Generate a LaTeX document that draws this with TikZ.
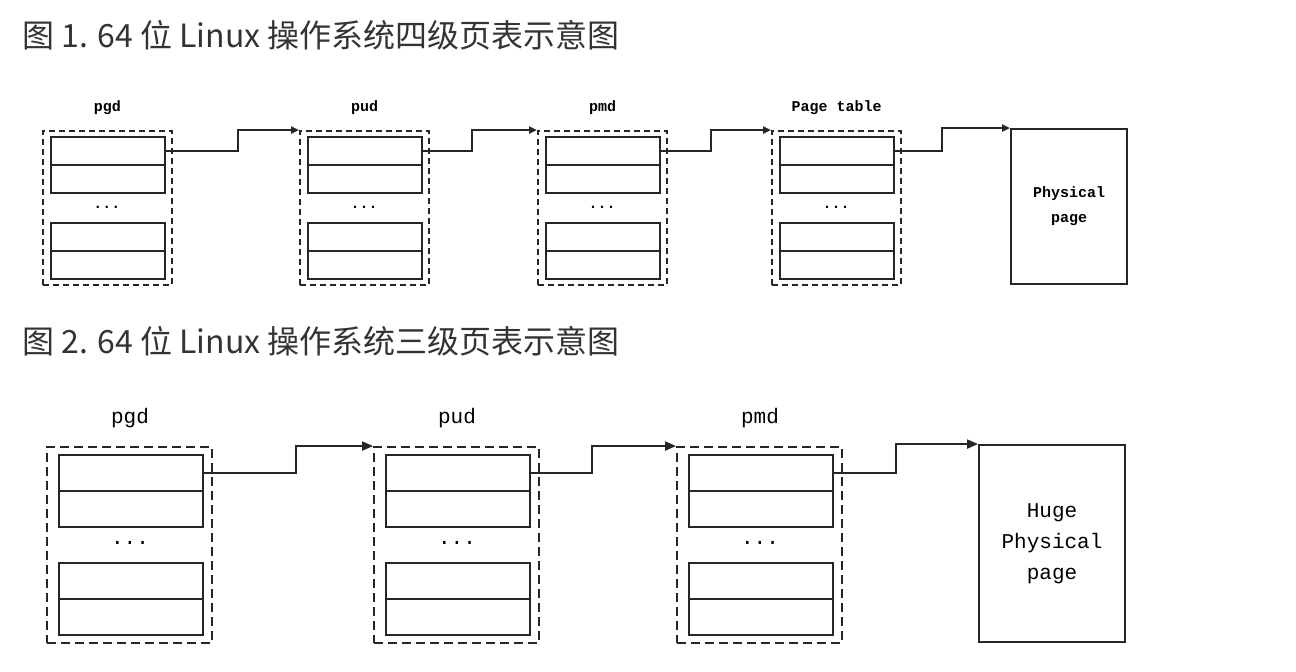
\documentclass[tikz,border=0pt]{standalone}
\usepackage{fontspec}
\newfontfamily\cjk{Noto Sans CJK SC}
\newfontfamily\mono{Liberation Mono}
\usetikzlibrary{arrows.meta}
\tikzset{
caption/.style={anchor=west,inner sep=0,text=black!80,font=\cjk\fontsize{32}{32}\selectfont},
dirA/.style={draw=black!85,line width=1.9pt,dash pattern=on 6pt off 4pt,minimum width=129pt,minimum height=154pt,inner sep=0},
slotA/.style={draw=black!85,line width=1.9pt,minimum width=114pt,minimum height=28pt,inner sep=0},
labA/.style={inner sep=0,font=\mono\bfseries\fontsize{15}{25}\selectfont},
dirB/.style={draw=black!85,line width=1.9pt,dash pattern=on 9pt off 5pt,minimum width=165pt,minimum height=196pt,inner sep=0},
slotB/.style={draw=black!85,line width=1.9pt,minimum width=144pt,minimum height=36pt,inner sep=0},
labB/.style={inner sep=0,font=\mono\fontsize{21}{31}\selectfont},
linkA/.style={draw=black!85,line width=1.9pt,-{Triangle[length=8pt,width=7pt]}},
linkB/.style={draw=black!85,line width=1.9pt,-{Triangle[length=11pt,width=9pt]}}
}
\begin{document}
\begin{tikzpicture}[x=1pt,y=-1pt]
\useasboundingbox (0,0) rectangle (1296,672);
\node[caption] (cap1) at (22,35) {图 1. 64 位 Linux 操作系统四级页表示意图};
\node[caption] (cap2) at (22,341) {图 2. 64 位 Linux 操作系统三级页表示意图};
\foreach \n/\l/\t in {1/43/pgd,2/300/pud,3/538/pmd,4/772/Page table}
{
\node[dirA] (a\n) at (\l+64.5,208) {};
\node[labA] at (\l+64.5,108) {\t};
\foreach \r/\y in {1/137,2/165,3/223,4/251}
{
\node[slotA] (a\n-\r) at (\l+65,\y+14) {};
}
\node[labA] at (\l+64,209) {···};
}
\node[dirA,solid,minimum width=116pt,minimum height=155pt,align=center,labA] (a5) at (1069,206.5) {Physical\\page};
\draw[linkA] (a1-1.east) -- ++(72,0) |- (a2.north west);
\draw[linkA] (a2-1.east) -- ++(49,0) |- (a3.north west);
\draw[linkA] (a3-1.east) -- ++(50,0) |- (a4.north west);
\draw[linkA] (a4-1.east) -- ++(47,0) |- (a5.north west);
\foreach \n/\l/\t in {1/47/pgd,2/374/pud,3/677/pmd}
{
\node[dirB] (b\n) at (\l+82.5,545) {};
\node[labB] at (\l+83,418) {\t};
\foreach \r/\y in {1/455,2/491,3/563,4/599}
{
\node[slotB] (b\n-\r) at (\l+84,\y+18) {};
}
\node[labB,anchor=base] at (\l+83,544) {...};
}
\node[dirB,solid,minimum width=146pt,minimum height=197pt,align=center,labB] (b4) at (1052,543.5) {Huge\\Physical\\page};
\draw[linkB] (b1-1.east) -- ++(92,0) |- (b2.north west);
\draw[linkB] (b2-1.east) -- ++(61,0) |- (b3.north west);
\draw[linkB] (b3-1.east) -- ++(62,0) |- (b4.north west);
\end{tikzpicture}
\end{document}
